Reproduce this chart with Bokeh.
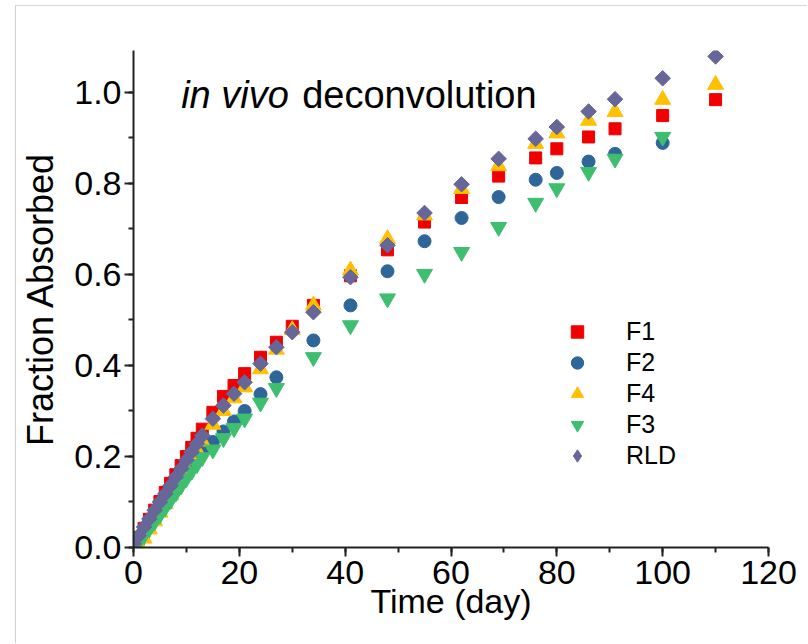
from bokeh.plotting import figure
from bokeh.models import (Range1d, SingleIntervalTicker, Label, Legend, LegendItem,
                          PrintfTickFormatter)
from bokeh.embed import file_html
from bokeh.resources import INLINE
import numpy as np

# ---- data ----
days_a = [0, 1, 2, 3, 4, 5, 6, 7, 8, 9, 10, 11, 12, 13,
          15, 17, 19, 21, 24, 27, 30, 34, 41, 48, 55, 62, 69, 76, 80, 86, 91, 100, 110]
days_b = [0, 1, 2, 3, 4, 5, 6, 7, 8, 9, 10, 11, 12, 13,
          15, 17, 19, 21, 24, 27, 34, 41, 48, 55, 62, 69, 76, 80, 86, 91, 100]

f1 = [0.003, 0.022, 0.042, 0.062, 0.082, 0.101, 0.121, 0.141, 0.160, 0.180, 0.200, 0.220, 0.240, 0.260,
      0.297, 0.332, 0.356, 0.382, 0.418, 0.451, 0.486, 0.532, 0.597, 0.654, 0.715, 0.769, 0.816, 0.856,
      0.876, 0.902, 0.920, 0.949, 0.984]
f4 = [0.000, 0.005, 0.020, 0.040, 0.058, 0.077, 0.096, 0.115, 0.134, 0.153, 0.173, 0.193, 0.213, 0.233,
      0.270, 0.300, 0.328, 0.352, 0.392, 0.435, 0.478, 0.532, 0.609, 0.678, 0.730, 0.788, 0.838, 0.887,
      0.910, 0.938, 0.957, 0.984, 1.017]
rld = [0.008, 0.026, 0.045, 0.063, 0.082, 0.100, 0.118, 0.136, 0.155, 0.173, 0.192, 0.210, 0.228, 0.246,
       0.283, 0.312, 0.338, 0.363, 0.404, 0.440, 0.473, 0.517, 0.594, 0.664, 0.735, 0.798, 0.854, 0.898,
       0.924, 0.958, 0.985, 1.031, 1.079]
f2 = [0.000, 0.014, 0.030, 0.046, 0.062, 0.078, 0.095, 0.112, 0.128, 0.145, 0.161, 0.178, 0.194, 0.210,
      0.232, 0.255, 0.277, 0.300, 0.337, 0.374, 0.455, 0.532, 0.607, 0.673, 0.724, 0.770, 0.808,
      0.823, 0.848, 0.865, 0.889]
f3 = [0.000, 0.012, 0.027, 0.042, 0.057, 0.072, 0.088, 0.104, 0.120, 0.136, 0.152, 0.168, 0.183, 0.198,
      0.215, 0.240, 0.262, 0.283, 0.318, 0.350, 0.418, 0.488, 0.547, 0.601, 0.649, 0.704, 0.757,
      0.789, 0.825, 0.854, 0.902]

FONT = "Liberation Sans"

p = figure(width=792, height=638, output_backend="svg", toolbar_location=None,
           x_range=Range1d(0, 120), y_range=Range1d(0, 1.092),
           min_border_left=117, min_border_right=40, min_border_top=44, min_border_bottom=97,
           margin=(5, 0, 0, 15))
p.styles = {"border-top": "1px solid #d8d8d8", "border-left": "1px solid #d0d0d0"}
p.outline_line_color = None
p.xgrid.visible = False
p.ygrid.visible = False
p.background_fill_color = "white"
p.border_fill_color = "white"

p.xaxis.ticker = SingleIntervalTicker(interval=20, num_minor_ticks=2)
p.yaxis.ticker = SingleIntervalTicker(interval=0.2, num_minor_ticks=2)
p.yaxis.formatter = PrintfTickFormatter(format="%.1f")
p.xaxis.axis_label = "Time (day)"
p.yaxis.axis_label = "Fraction Absorbed"
for ax in (p.xaxis[0], p.yaxis[0]):
    ax.axis_line_width = 2
    ax.axis_line_color = "#222222"
    ax.major_tick_line_width = 2
    ax.minor_tick_line_width = 2
    ax.major_tick_line_color = "#222222"
    ax.minor_tick_line_color = "#222222"
    ax.major_tick_in = 0
    ax.major_tick_out = 9
    ax.minor_tick_in = 0
    ax.minor_tick_out = 5
    ax.major_label_text_font = FONT
    ax.major_label_text_font_size = "34px"
    ax.major_label_text_color = "black"
    ax.axis_label_text_font = FONT
    ax.axis_label_text_font_style = "normal"
    ax.axis_label_text_color = "black"
p.xaxis.axis_label_text_font_size = "34px"
p.yaxis.axis_label_text_font_size = "36px"
p.xaxis.major_label_standoff = 4
p.yaxis.major_label_standoff = 3
p.xaxis.axis_label_standoff = -5
p.yaxis.axis_label_standoff = 10

r1 = p.scatter(days_a, f1, marker="square", size=12, color="#f00000")
r2 = p.scatter(days_b, f2, marker="circle", size=13, color="#2f6699")
r4 = p.scatter(days_a, f4, marker="triangle", size=16, color="#ffc000")
r3 = p.scatter(days_b, f3, marker="inverted_triangle", size=16, color="#3dbf6f")
r5 = p.scatter(days_a, rld, marker="square", size=11, angle=np.pi / 4, color="#666699")
# legend proxy for the diamond symbol (no points of its own)
r5_leg = p.scatter([np.nan], [np.nan], marker="diamond", size=14, color="#666699")

legend = Legend(items=[LegendItem(label="F1", renderers=[r1]),
                       LegendItem(label="F2", renderers=[r2]),
                       LegendItem(label="F4", renderers=[r4]),
                       LegendItem(label="F3", renderers=[r3]),
                       LegendItem(label="RLD", renderers=[r5_leg])],
                location=(428, 76), orientation="vertical")
legend.glyph_width = 32
legend.glyph_height = 31
legend.label_height = 31
legend.spacing = 0
legend.padding = 0
legend.margin = 0
legend.label_standoff = 33
legend.label_text_font = FONT
legend.label_text_font_size = "25px"
legend.label_text_color = "black"
legend.border_line_color = None
legend.background_fill_alpha = 0
p.add_layout(legend, "center")

p.add_layout(Label(x=9, y=0.995, text="in vivo", text_font=FONT, text_font_size="38px",
                   text_font_style="italic", text_baseline="alphabetic", text_color="black"))
p.add_layout(Label(x=9, y=0.995, x_offset=121, text="deconvolution", text_font=FONT,
                   text_font_size="38px", text_baseline="alphabetic", text_color="black"))

open("out.html", "w").write(file_html(p, INLINE))
